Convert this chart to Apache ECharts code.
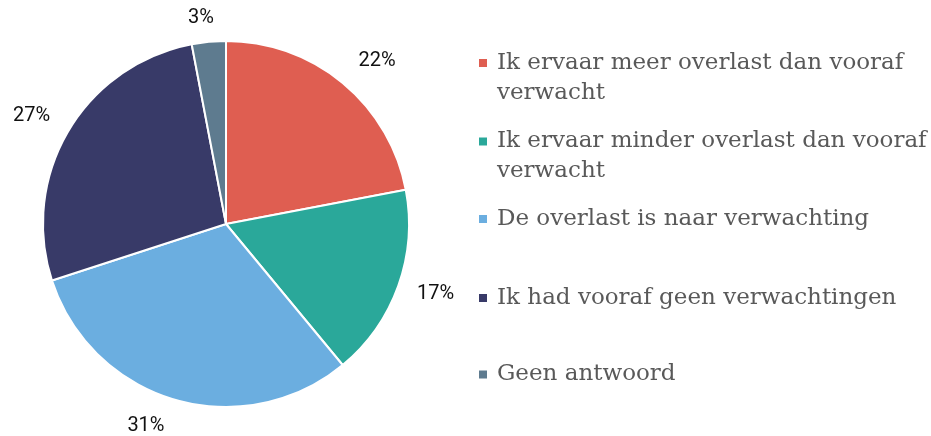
<!DOCTYPE html>
<html><head><meta charset="utf-8">
<script src="https://cdn.jsdelivr.net/npm/echarts@6/dist/echarts.min.js"></script>
<style>html,body{margin:0;padding:0;background:#fff}#c{width:931px;height:436px}</style>
</head><body><div id="c"></div>
<script>
const categories = [
  'Ik ervaar meer overlast dan vooraf verwacht',
  'Ik ervaar minder overlast dan vooraf verwacht',
  'De overlast is naar verwachting',
  'Ik had vooraf geen verwachtingen',
  'Geen antwoord'
];
const legendLines = [
  ['Ik ervaar meer overlast dan vooraf', 'verwacht'],
  ['Ik ervaar minder overlast dan vooraf', 'verwacht'],
  ['De overlast is naar verwachting'],
  ['Ik had vooraf geen verwachtingen'],
  ['Geen antwoord']
];
const values = [22, 17, 31, 27, 3];
const colors = ['#DF5E51', '#2AA89A', '#6BAEE0', '#383A68', '#5E7B8F'];

// layout (not data): legend row centres and label placement tweaks
const legendCenters = [63, 141.5, 219, 298, 374.5];
const labelLen = [28.7, 23.5, 27, 29.2, 23.5];
const labelDist = [-2.4, -3.3, 2.9, -6.7, -7.4];

const legends = categories.map((name, i) => {
  const lines = legendLines[i];
  const twoLine = lines.length > 1;
  return {
    orient: 'vertical',
    left: 477,
    top: twoLine ? legendCenters[i] - 45 : legendCenters[i] - 15,
    padding: 0,
    data: [name],
    icon: 'rect',
    itemWidth: 10,
    itemHeight: 10,
    itemGap: 0,
    selectedMode: false,
    formatter: () => (twoLine ? '\n' : '') + lines.map(l => '{t|' + l + '}').join('\n'),
    textStyle: {
      fontFamily: 'DejaVu Serif',
      fontSize: 23,
      color: '#595959',
      lineHeight: 30,
      rich: {
        t: {fontFamily: 'DejaVu Serif', fontSize: 23, color: '#595959', lineHeight: 30, padding: [0, 0, 0, 4]}
      }
    }
  };
});

const chart = echarts.init(document.getElementById('c'), null, {renderer: 'canvas'});
chart.setOption({
  animation: false,
  color: colors,
  legend: legends,
  series: [{
    type: 'pie',
    center: [226, 224],
    radius: 183,
    startAngle: 90,
    clockwise: true,
    avoidLabelOverlap: false,
    itemStyle: {borderColor: '#fff', borderWidth: 2},
    label: {
      show: true,
      position: 'outside',
      formatter: p => p.value + '%',
      fontFamily: 'Roboto',
      fontSize: 20,
      color: '#111'
    },
    labelLine: {show: false, length: 26, length2: 0},
    data: categories.map((c, i) => ({
      name: c,
      value: values[i],
      label: {distanceToLabelLine: labelDist[i]},
      labelLine: {length: labelLen[i], length2: 0}
    }))
  }]
});
</script></body></html>
